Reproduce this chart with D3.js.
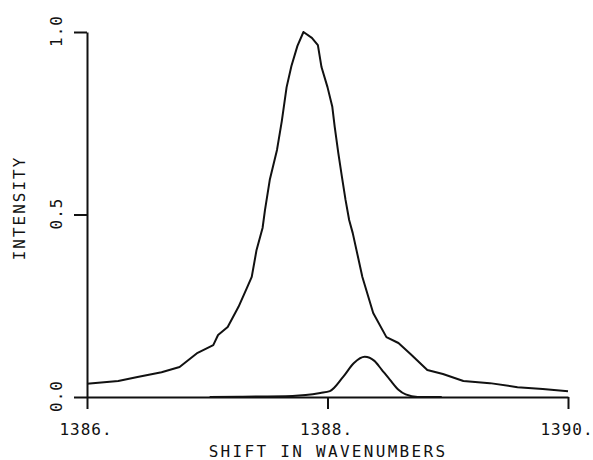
<!DOCTYPE html>
<html>
<head>
<meta charset="utf-8">
<script src="https://cdn.jsdelivr.net/npm/d3@7"></script>
<style>
  body { margin: 0; background: #fff; }
  text { font-family: "DejaVu Sans Mono", monospace; fill: #111; }
  .axis path, .axis line { stroke: #111; stroke-width: 2; }
  .curve { fill: none; stroke: #111; stroke-width: 2; stroke-linejoin: round; }
</style>
</head>
<body>
<div id="chart"></div>
<script>
//wrap in a self-executing function
(function(){

  //main band
  var mainShift = [1386.00, 1386.26, 1386.42, 1386.62, 1386.77, 1386.92, 1387.05, 1387.09, 1387.17,
    1387.26, 1387.33, 1387.37, 1387.41, 1387.46, 1387.48, 1387.52, 1387.58, 1387.62, 1387.66,
    1387.70, 1387.75, 1387.80, 1387.87, 1387.92, 1387.95, 1388.00, 1388.04, 1388.06, 1388.09,
    1388.12, 1388.15, 1388.18, 1388.21, 1388.29, 1388.38, 1388.49, 1388.59, 1388.69, 1388.83,
    1388.96, 1389.13, 1389.35, 1389.58, 1389.79, 1390.00];
  var mainIntensity = [0.036, 0.044, 0.055, 0.068, 0.082, 0.121, 0.142, 0.170, 0.192,
    0.247, 0.299, 0.329, 0.403, 0.463, 0.512, 0.595, 0.677, 0.756, 0.849,
    0.907, 0.962, 1.000, 0.984, 0.964, 0.904, 0.849, 0.795, 0.740, 0.668,
    0.603, 0.540, 0.485, 0.449, 0.329, 0.230, 0.164, 0.148, 0.118, 0.074,
    0.063, 0.044, 0.038, 0.027, 0.022, 0.016];

  //small band
  var smallShift = [1387.02, 1387.27, 1387.71, 1387.94, 1388.02, 1388.13, 1388.22, 1388.31,
    1388.39, 1388.45, 1388.52, 1388.59, 1388.65, 1388.75, 1388.95];
  var smallIntensity = [0.000, 0.001, 0.003, 0.011, 0.016, 0.055, 0.093, 0.110,
    0.099, 0.075, 0.047, 0.020, 0.007, 0.000, 0.000];

  //tick labels
  var xTicks = [1386, 1388, 1390];
  var xTickLabels = ["1386.", "1388.", "1390."];
  var yTicks = [0, 0.5, 1];
  var yTickLabels = ["0.0", "0.5", "1.0"];

  var width = 593,
      height = 460;

  var svg = d3.select("#chart")
    .append("svg")
    .attr("width", width)
    .attr("height", height);

  var x = d3.scaleLinear().domain([1386, 1390]).range([87, 568]);
  var y = d3.scaleLinear().domain([0, 1]).range([397, 32]);

  //axes, ticks drawn as outer strokes like the plotter output
  var yAxis = d3.axisLeft(y)
      .tickValues(yTicks)
      .tickSize(13)
      .tickSizeOuter(0)
      .tickFormat("");
  svg.append("g")
      .attr("class", "axis")
      .attr("transform", "translate(" + x(1386) + ",0)")
      .call(yAxis);

  var xAxis = d3.axisBottom(x)
      .tickValues(xTicks)
      .tickSize(12)
      .tickSizeOuter(0)
      .tickFormat("");
  svg.append("g")
      .attr("class", "axis")
      .attr("transform", "translate(0," + y(0) + ")")
      .call(xAxis);

  //tick labels, y ones rotated
  svg.selectAll(".ylab")
      .data(yTicks)
      .enter()
      .append("text")
      .attr("class", "ylab")
      .attr("transform", function(d){
        return "translate(56," + (y(d) - 1) + ") rotate(-90)";
      })
      .attr("text-anchor", "middle")
      .attr("dominant-baseline", "central")
      .style("font-size", "16px")
      .style("letter-spacing", "1px")
      .text(function(d, i){ return yTickLabels[i]; });

  svg.selectAll(".xlab")
      .data(xTicks)
      .enter()
      .append("text")
      .attr("class", "xlab")
      .attr("x", function(d){ return x(d) - 1; })
      .attr("y", 435)
      .attr("text-anchor", "middle")
      .style("font-size", "16px")
      .style("letter-spacing", "1px")
      .text(function(d, i){ return xTickLabels[i]; });

  //axis titles
  svg.append("text")
      .attr("x", 328)
      .attr("y", 457)
      .attr("text-anchor", "middle")
      .style("font-size", "16px")
      .style("letter-spacing", "2.3px")
      .text("SHIFT IN WAVENUMBERS");

  svg.append("text")
      .attr("transform", "translate(19,208) rotate(-90)")
      .attr("text-anchor", "middle")
      .attr("dominant-baseline", "central")
      .style("font-size", "16px")
      .style("letter-spacing", "2px")
      .text("INTENSITY");

  //curves
  var line = d3.line()
      .x(function(d){ return x(d[0]); })
      .y(function(d){ return y(d[1]); });

  svg.append("path")
      .attr("class", "curve")
      .datum(d3.zip(mainShift, mainIntensity))
      .attr("d", line);

  svg.append("path")
      .attr("class", "curve")
      .datum(d3.zip(smallShift, smallIntensity))
      .attr("d", line.curve(d3.curveMonotoneX));

})();
</script>
</body>
</html>
